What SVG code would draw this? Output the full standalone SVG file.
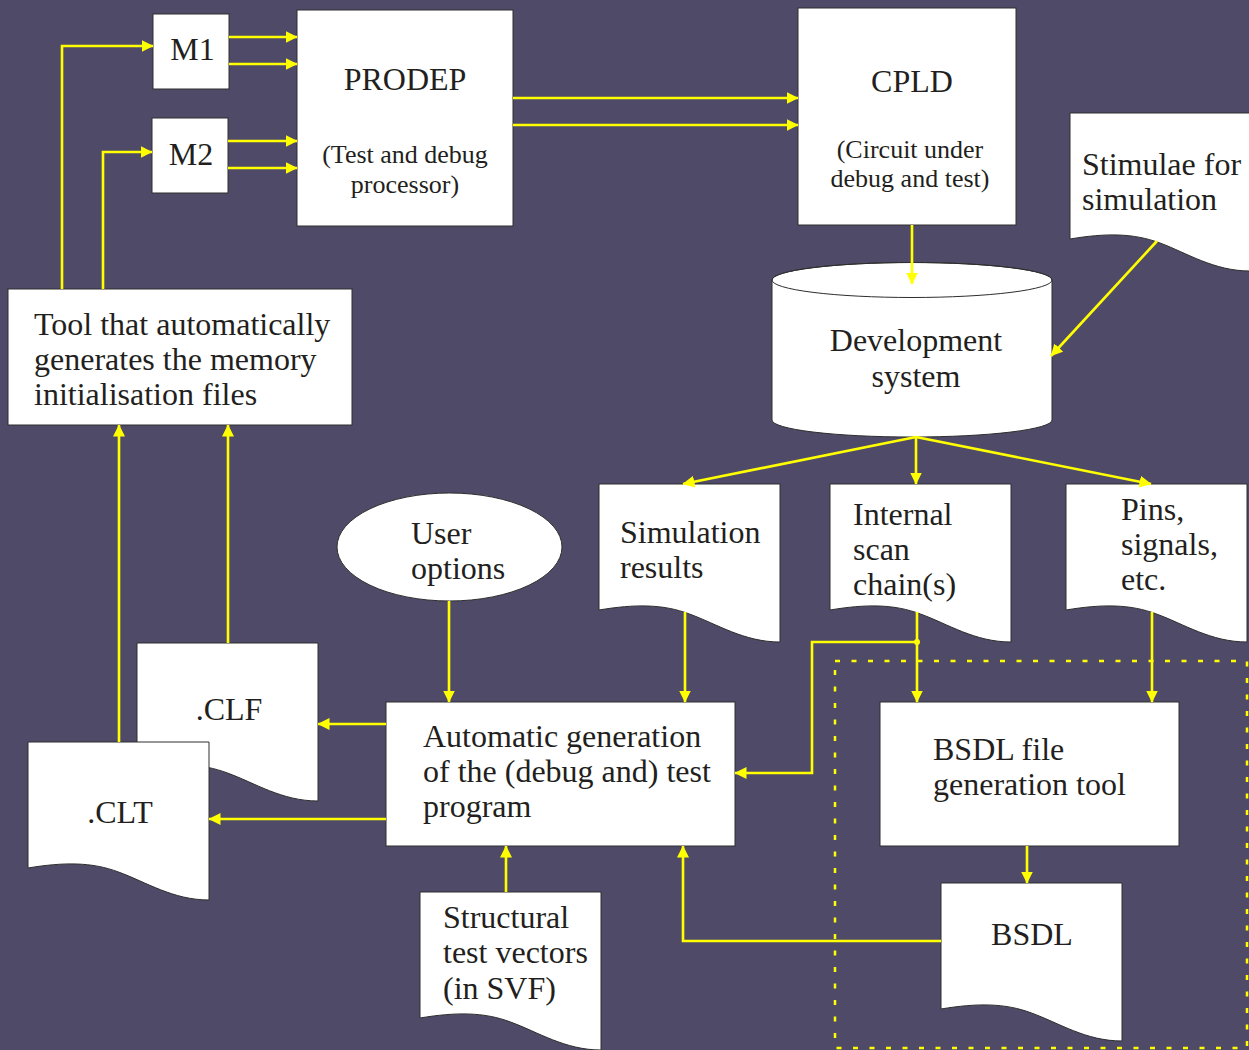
<svg xmlns="http://www.w3.org/2000/svg" width="1249" height="1050" viewBox="0 0 1249 1050">
<defs>
<style>
.node{fill:#ffffff;stroke:#2e2e2e;stroke-width:1}
.conn{fill:none;stroke:#ffff00;stroke-width:2.6}
.t{font-family:"Liberation Serif","Times New Roman",serif;font-size:32px;fill:#231f20}
.s{font-family:"Liberation Serif","Times New Roman",serif;font-size:26px;fill:#231f20}
.c{text-anchor:middle}
.dotted{fill:none;stroke:#ffff00;stroke-width:2.5;stroke-dasharray:5 11.5}
</style>
<marker id="arr" markerUnits="userSpaceOnUse" viewBox="0 0 12 12" refX="11.5" refY="6" markerWidth="12" markerHeight="12" orient="auto">
<path d="M0,0 L12,6 L0,12 z" fill="#ffff00"/>
</marker>
</defs>
<rect x="0" y="0" width="1249" height="1050" fill="#4f4a68"/>
<rect class="dotted" x="835" y="661" width="412" height="387"/>

<g id="M1"><rect class="node" x="153" y="14" width="76" height="75"/><text class="t c" x="192.5" y="60">M1</text></g>
<g id="M2"><rect class="node" x="152" y="118" width="76" height="75"/><text class="t c" x="191" y="165">M2</text></g>
<g id="PRODEP"><rect class="node" x="297" y="10" width="216" height="216"/>
<text class="t c" x="405" y="90">PRODEP</text>
<text class="s c" x="405" y="163">(Test and debug</text>
<text class="s c" x="405" y="193">processor)</text></g>
<g id="CPLD"><rect class="node" x="798" y="8" width="218" height="217"/>
<text class="t c" x="912" y="92">CPLD</text>
<text class="s c" x="910" y="158">(Circuit under</text>
<text class="s c" x="910" y="187">debug and test)</text></g>
<g id="Stimulae"><path class="node" d="M1070,113 H1250 V271 C1214,271 1187,253 1160,243 C1133,233 1106,233 1070,239 Z"/>
<text class="t" x="1082" y="175">Stimulae for</text>
<text class="t" x="1082" y="210">simulation</text></g>
<g id="DevSystem"><path class="node" d="M772,280 A140,17.5 0 0 1 1052,280 V420 A140,17 0 0 1 772,420 Z"/>
<ellipse cx="912" cy="280" rx="140" ry="17.5" fill="none" stroke="#2e2e2e" stroke-width="1"/>
<text class="t c" x="916" y="351">Development</text>
<text class="t c" x="916" y="387">system</text></g>
<g id="Tool"><rect class="node" x="8" y="289" width="344" height="136"/>
<text class="t" x="34" y="335">Tool that automatically</text>
<text class="t" x="34" y="370">generates the memory</text>
<text class="t" x="34" y="405">initialisation files</text></g>
<g id="UserOptions"><ellipse class="node" cx="449.5" cy="547" rx="112.5" ry="54"/>
<text class="t" x="411" y="544">User</text>
<text class="t" x="411" y="579">options</text></g>
<g id="SimResults"><path class="node" d="M599,484 H780 V642 C744,642 717,624 689.5,614 C663,604 635,604 599,610 Z"/>
<text class="t" x="620" y="543">Simulation</text>
<text class="t" x="620" y="578">results</text></g>
<g id="InternalScan"><path class="node" d="M830,484 H1011 V642 C975,642 948,624 920.5,614 C894,604 866,604 830,610 Z"/>
<text class="t" x="853" y="525">Internal</text>
<text class="t" x="853" y="560">scan</text>
<text class="t" x="853" y="595">chain(s)</text></g>
<g id="Pins"><path class="node" d="M1066,484 H1247 V642 C1211,642 1184,624 1156.5,614 C1130,604 1102,604 1066,610 Z"/>
<text class="t" x="1121" y="520">Pins,</text>
<text class="t" x="1121" y="555">signals,</text>
<text class="t" x="1121" y="590">etc.</text></g>
<g id="CLF"><path class="node" d="M137,643 H318 V801 C282,801 255,783 227.5,773 C201,763 173,763 137,769 Z"/>
<text class="t c" x="229" y="720">.CLF</text></g>
<g id="CLT"><path class="node" d="M28,742 H209 V900 C173,900 146,882 118.5,872 C92,862 64,862 28,868 Z"/>
<text class="t c" x="120" y="823">.CLT</text></g>
<g id="AutoGen"><rect class="node" x="386" y="702" width="349" height="144"/>
<text class="t" x="423" y="747">Automatic generation</text>
<text class="t" x="423" y="782">of the (debug and) test</text>
<text class="t" x="423" y="817">program</text></g>
<g id="BSDLTool"><rect class="node" x="880" y="702" width="299" height="144"/>
<text class="t" x="933" y="760">BSDL file</text>
<text class="t" x="933" y="795">generation tool</text></g>
<g id="BSDL"><path class="node" d="M941,883 H1122 V1041 C1086,1041 1059,1023 1031.5,1013 C1005,1003 977,1003 941,1009 Z"/>
<text class="t c" x="1032" y="945">BSDL</text></g>
<g id="Structural"><path class="node" d="M420,892 H601 V1050 C565,1050 538,1032 510.5,1022 C484,1012 456,1012 420,1018 Z"/>
<text class="t" x="443" y="928">Structural</text>
<text class="t" x="443" y="963">test vectors</text>
<text class="t" x="443" y="999">(in SVF)</text></g>

<g id="connectors" class="conn" marker-end="url(#arr)">
<path d="M62,289 V46 H153"/>
<path d="M103,289 V152 H152"/>
<path d="M229,37 H297"/>
<path d="M229,64 H297"/>
<path d="M228,141 H297"/>
<path d="M228,168 H297"/>
<path d="M513,98 H798"/>
<path d="M513,125 H798"/>
<path d="M912,225 V284"/>
<path d="M1157,241 L1051,356"/>
<path d="M916,437 L683,484"/>
<path d="M916,437 V484"/>
<path d="M916,437 L1151,484"/>
<path d="M685,612 V702"/>
<path d="M449,601 V702"/>
<path d="M917,612 V642 H812 V773 H735"/>
<path d="M917,642 V702"/>
<path d="M1152,612 V702"/>
<path d="M1027,846 V883"/>
<path d="M941,941 H683 V846"/>
<path d="M506,892 V846"/>
<path d="M386,724 H318"/>
<path d="M386,819 H209"/>
<path d="M119,742 V425"/>
<path d="M228,643 V425"/>
<circle cx="917" cy="642" r="3" fill="#ffff00" stroke="none" marker-end="none"/>
</g>
</svg>
